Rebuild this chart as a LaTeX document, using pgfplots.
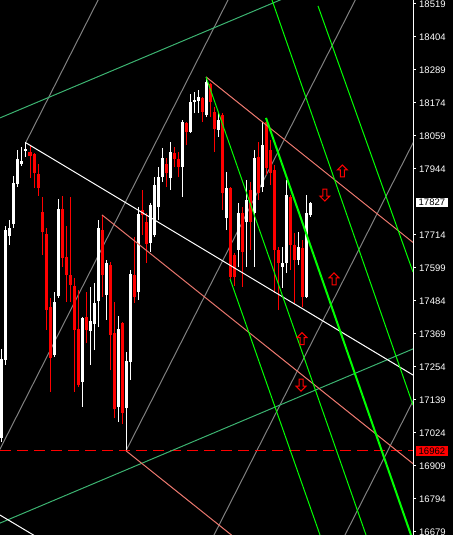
\documentclass[border=0pt]{standalone}
\usepackage{pgfplots}
\pgfplotsset{compat=1.18}
\usepackage{pgfplotstable}
\usepackage{fontspec}
\setmainfont{Liberation Sans}
\definecolor{lcoral}{RGB}{235,120,110}
\definecolor{seag}{RGB}{60,179,113}
\definecolor{lgray}{RGB}{128,128,128}
\definecolor{lime}{RGB}{0,255,0}
\definecolor{cred}{RGB}{255,0,0}
\pgfdeclareplotmark{uparr}{%
 \pgfpathmoveto{\pgfqpoint{0pt}{6pt}}%
 \pgfpathlineto{\pgfqpoint{5pt}{1pt}}%
 \pgfpathlineto{\pgfqpoint{2pt}{1pt}}%
 \pgfpathlineto{\pgfqpoint{2pt}{-6pt}}%
 \pgfpathlineto{\pgfqpoint{-2pt}{-6pt}}%
 \pgfpathlineto{\pgfqpoint{-2pt}{1pt}}%
 \pgfpathlineto{\pgfqpoint{-5pt}{1pt}}%
 \pgfpathclose\pgfusepathqstroke}
\pgfdeclareplotmark{downarr}{%
 \pgfpathmoveto{\pgfqpoint{0pt}{-6pt}}%
 \pgfpathlineto{\pgfqpoint{5pt}{-1pt}}%
 \pgfpathlineto{\pgfqpoint{2pt}{-1pt}}%
 \pgfpathlineto{\pgfqpoint{2pt}{6pt}}%
 \pgfpathlineto{\pgfqpoint{-2pt}{6pt}}%
 \pgfpathlineto{\pgfqpoint{-2pt}{-1pt}}%
 \pgfpathlineto{\pgfqpoint{-5pt}{-1pt}}%
 \pgfpathclose\pgfusepathqstroke}
\pgfplotstableread{
i O H L C
0 17007 17317 16993 17282
1 17278 17745 17261 17731
2 17711 17766 17679 17738
3 17752 17920 17738 17895
4 17892 18010 17881 17979
5 17961 18021 17954 17972
6 18007 18038 17986 18014
13 17296 17515 17289 17480
14 17501 17839 17494 17805
20 17202 17428 17115 17425
22 17379 17533 17261 17414
23 17404 17547 17313 17477
24 17484 17766 17393 17738
26 17505 17627 17418 17616
29 17115 17432 17062 17386
31 17111 17306 16962 17275
32 17271 17592 17209 17578
34 17515 17812 17488 17787
37 17686 17826 17655 17819
38 17714 17916 17707 17888
39 17812 17951 17766 17916
40 17916 18017 17899 17982
42 17913 18038 17871 18003
45 17951 18115 17846 18108
47 18073 18205 18070 18178
48 18178 18212 18139 18185
49 18181 18219 18139 18195
51 18132 18265 18125 18247
54 18080 18143 18056 18115
56 17773 17934 17731 17878
59 17662 17826 17603 17791
61 17759 17906 17603 17836
63 17791 18010 17603 17982
65 17881 18108 17864 18028
70 17603 17672 17529 17616
71 17616 17906 17582 17853
74 17627 17724 17609 17672
76 17498 17853 17494 17791
77 17784 17830 17777 17827
}\whitetab
\pgfplotstableread{
i O H L C
7 18003 18028 17913 17989
8 17996 18000 17878 17930
9 17927 17961 17850 17878
10 17794 17846 17644 17724
11 17717 17738 17383 17453
12 17463 17494 17167 17285
15 17805 17850 17603 17634
16 17637 17745 17480 17575
17 17575 17846 17480 17540
18 17536 17564 17167 17383
19 17386 17522 17184 17191
21 17428 17515 17338 17383
25 17731 17784 17498 17575
27 17609 17620 17243 17365
28 17372 17480 17076 17108
30 17407 17411 17055 17094
33 17575 17707 17477 17498
35 17801 17871 17714 17784
36 17759 17791 17616 17683
41 17961 17982 17881 17930
43 18000 18021 17951 17979
44 17979 18003 17916 17951
46 18104 18108 18028 18073
50 18192 18195 18108 18143
52 18240 18244 18125 18178
53 18143 18160 18003 18083
55 18132 18139 17801 17860
57 17878 17881 17561 17568
58 17644 17651 17536 17568
60 17791 17812 17533 17655
62 17871 17899 17662 17759
64 17986 18038 17836 17860
66 18108 18122 17923 17948
67 18010 18045 17888 17930
68 17941 17958 17512 17662
69 17662 17672 17453 17616
72 17846 17853 17592 17679
73 17679 17721 17477 17627
75 17669 17697 17463 17498
}\redtab
\begin{document}
\begin{tikzpicture}
\path[use as bounding box] (0,0) rectangle (453pt,535pt);
\fill[black] (0,0) rectangle (453pt,535pt);
\begin{axis}[
  at={(0,0)}, anchor=south west, scale only axis,
  width=413pt, height=535pt,
  xmin=-0.5, xmax=102.75, ymin=16668.5, ymax=18532.9,
  axis x line=none, axis y line*=right,
  y axis line style={white, line width=1pt},
  ytick={18519,18404,18289,18174,18059,17944,17714,17599,17484,17369,17254,17139,17024,16909,16794,16679},
  yticklabels={18519,18404,18289,18174,18059,17944,17714,17599,17484,17369,17254,17139,17024,16909,16794,16679},
  tick align=outside, major tick length=2.5pt,
  ytick style={white, line width=1pt},
  yticklabel style={text=white, font=\fontsize{9.5}{10}\selectfont, anchor=west, inner sep=0pt, xshift=3.5pt},
  clip mode=individual,
]
% gray lines
\addplot[lgray, line width=1pt, forget plot] coordinates {(6,18038) (26,18587)};
\addplot[lgray, line width=1pt, forget plot] coordinates {(-1,16954) (58,18574)};
\addplot[lgray, line width=1pt, forget plot] coordinates {(31,16962) (90,18579)};
\addplot[lgray, line width=1pt, forget plot] coordinates {(52,16641) (104,18069)};
\addplot[lgray, line width=1pt, forget plot] coordinates {(85,16648) (104,17170)};
% wicks
\addplot[white, line width=1pt, mark=none, forget plot, quiver={u=0, v=\thisrow{H}-\thisrow{L}}]
  table[x=i, y=L] {\whitetab};
\addplot[cred, line width=1pt, mark=none, forget plot, quiver={u=0, v=\thisrow{H}-\thisrow{L}}]
  table[x=i, y=L] {\redtab};
% bodies
\addplot[white, line width=3pt, mark=none, forget plot, quiver={u=0, v=\thisrow{C}-\thisrow{O}}]
  table[x=i, y=O] {\whitetab};
\addplot[cred, line width=3pt, mark=none, forget plot, quiver={u=0, v=\thisrow{O}-\thisrow{C}}]
  table[x=i, y=C] {\redtab};
% dashed level
\addplot[cred, line width=1pt, dash pattern=on 11pt off 6pt, forget plot] coordinates {(-0.5,16962) (102.75,16962)};
% sea green lines
\addplot[seag, line width=1pt, forget plot] coordinates {(-0.5,18122) (75,18565)};
\addplot[seag, line width=1pt, forget plot] coordinates {(-0.5,16710) (102.75,17317)};
% white lines
\addplot[white, line width=1pt, forget plot] coordinates {(6,18035) (102.75,17226)};
\addplot[white, line width=1pt, forget plot] coordinates {(-0.5,16738) (12,16634)};
% coral lines
\addplot[lcoral, line width=1pt, forget plot] coordinates {(51,18265) (102.75,17688)};
\addplot[lcoral, line width=1pt, forget plot] coordinates {(25,17784) (102.75,16917)};
\addplot[lcoral, line width=1pt, forget plot] coordinates {(31,16962) (60,16639)};
% lime lines
\addplot[lime, line width=1pt, forget plot] coordinates {(51,18265) (91,16668.5)};
\addplot[lime, line width=2pt, forget plot] coordinates {(66,18122) (102.25,16668.5)};
\addplot[lime, line width=1pt, forget plot] coordinates {(67.5,18532.9) (102.75,17121.6)};
\addplot[lime, line width=1pt, forget plot] coordinates {(79,18512) (102.75,17585)};
\addplot[lime, line width=1pt, forget plot] coordinates {(57,17561) (79.5,16668.5)};
% arrows
\addplot[only marks, mark=uparr, mark options={draw=cred, line width=1pt}, forget plot] coordinates {(85.1,17937) (83,17561) (75,17353)};
\addplot[only marks, mark=downarr, mark options={draw=cred, line width=1pt}, forget plot] coordinates {(80.7,17853) (74.75,17191)};
% price boxes
\node[fill=white, text=black, font=\fontsize{9.5}{10}\selectfont, inner xsep=2.5pt, inner ysep=1.5pt, anchor=west] at (axis cs:102.75,17827) [xshift=3pt] {17827};
\node[fill=cred, text=black, font=\fontsize{9.5}{10}\selectfont, inner xsep=2.5pt, inner ysep=1.5pt, anchor=west] at (axis cs:102.75,16962) [xshift=3pt] {16962};
\end{axis}
\end{tikzpicture}
\end{document}
